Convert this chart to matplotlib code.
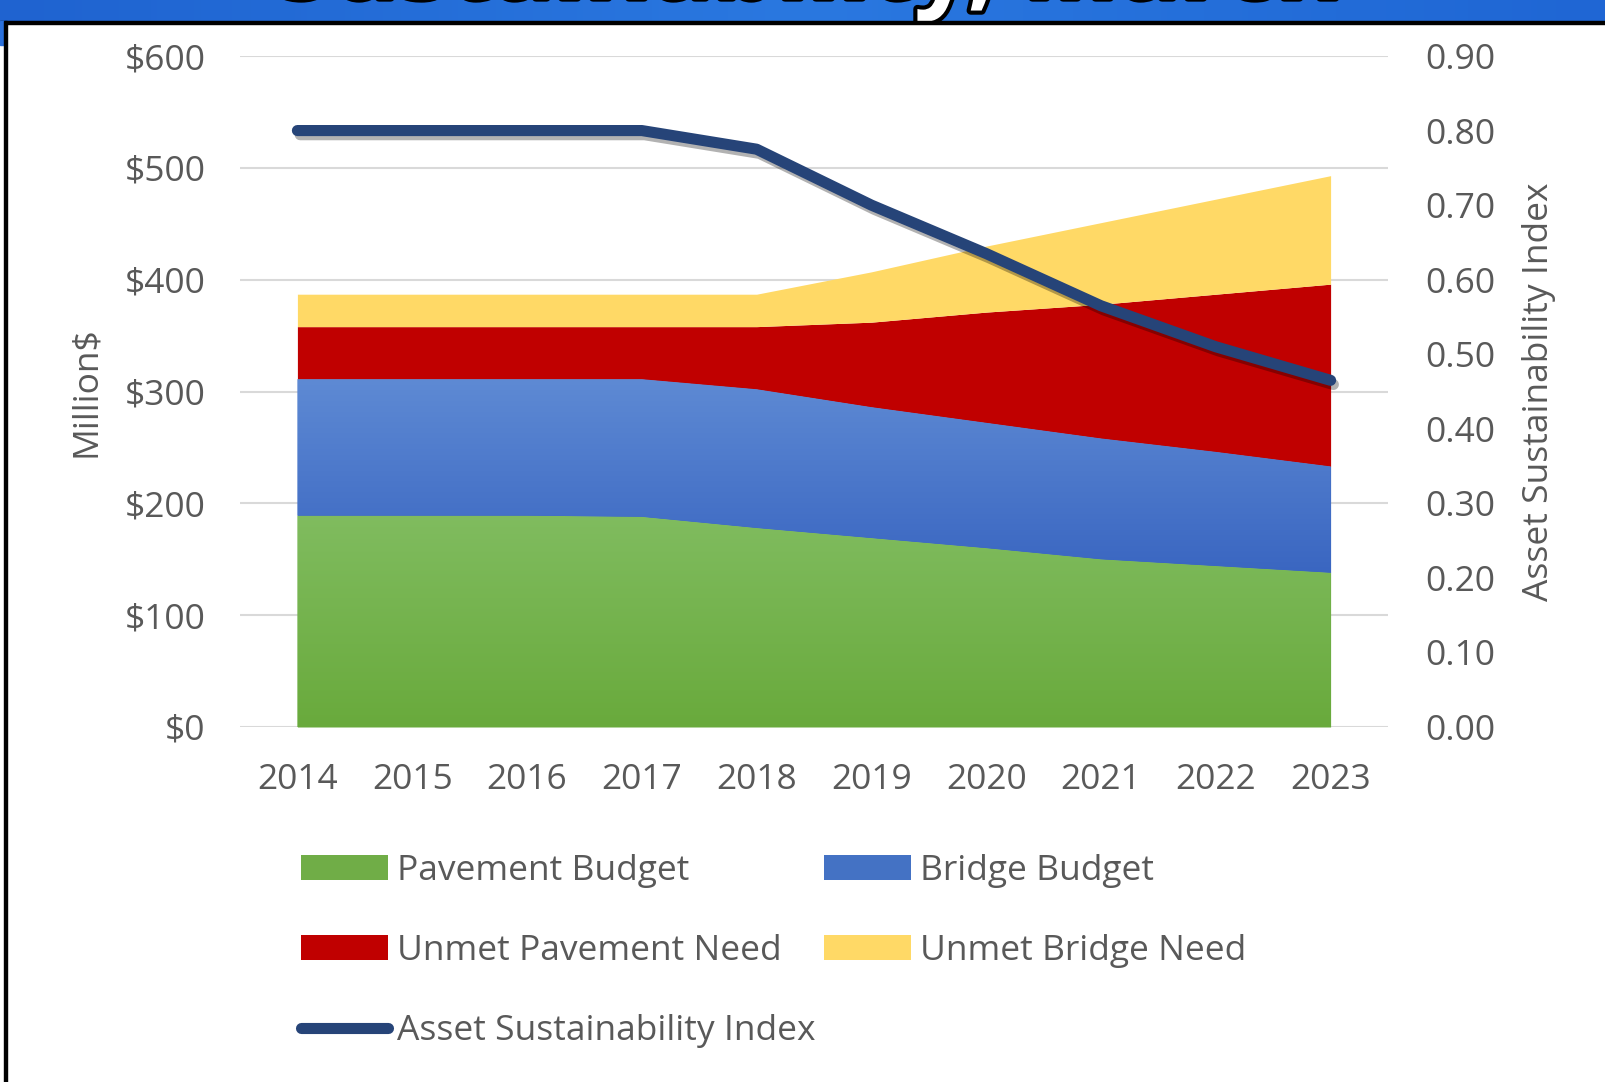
import numpy as np
import matplotlib.pyplot as plt
import matplotlib.patheffects as pe
from matplotlib.colors import LinearSegmentedColormap
from matplotlib.patches import Patch, Rectangle
from matplotlib.lines import Line2D
from matplotlib.ticker import FuncFormatter

plt.rcParams['font.family'] = ['Open Sans', 'DejaVu Sans']

years = [2014, 2015, 2016, 2017, 2018, 2019, 2020, 2021, 2022, 2023]
pavement_budget = [189, 189, 189, 188, 178, 169, 160, 150, 144, 138]
bridge_budget = [122, 122, 122, 123, 124, 117, 112, 108, 102, 95]
unmet_pavement = [47, 47, 47, 47, 56, 76, 99, 120, 141, 163]
unmet_bridge = [29, 29, 29, 29, 29, 45, 59, 73, 85, 97]
asi = [0.80, 0.80, 0.80, 0.80, 0.775, 0.70, 0.635, 0.565, 0.51, 0.465]

GRAY = '#595959'
FS = 25.5

fig = plt.figure(figsize=(16.06, 10.82), dpi=100)
fig.patch.set_facecolor('white')

# blue banner strip with the slide title running off the top
banner = fig.add_axes([0, 1 - 21 / 1082, 1, 21 / 1082])
banner.set_xlim(0, 1)
banner.set_ylim(0, 1)
banner.axis('off')
banner.imshow(np.linspace(0, 1, 256).reshape(1, -1), extent=[0, 1, 0, 1], aspect='auto',
              cmap=LinearSegmentedColormap.from_list('bn', ['#1f63d0', '#2a78e0', '#1f66d4']))
title = banner.text(0.504, 1.12, 'Sustainability, March', ha='center', va='baseline',
                    fontsize=73, fontweight='bold', color='white', clip_on=True)
title.set_path_effects([pe.withStroke(linewidth=6, foreground='black')])

fig.add_artist(Rectangle((0, 1 - 24 / 1082), 1, 3 / 1082, transform=fig.transFigure,
                         color='black', zorder=5))
fig.add_artist(Rectangle((0, 1 - 45 / 1082), 4 / 1606, 24 / 1082, transform=fig.transFigure,
                         color='#2a70dc', zorder=5))
fig.add_artist(Rectangle((4 / 1606, 0), 3 / 1606, 1 - 21 / 1082, transform=fig.transFigure,
                         color='black', zorder=5))

ax = fig.add_axes([240 / 1606, 1 - 727 / 1082, 1148 / 1606, 671 / 1082])
x = np.arange(len(years))

# stacked areas, the two budget layers shaded lighter toward the top
base = np.zeros(len(years))
layers = [
    (pavement_budget, ('#80bc5f', '#69aa3c')),
    (bridge_budget, ('#5e8ad4', '#3a66c1')),
    (unmet_pavement, ('#c00000', '#c00000')),
    (unmet_bridge, ('#ffd966', '#ffd966')),
]
for vals, (c_top, c_bot) in layers:
    top = base + np.array(vals)
    poly = ax.fill_between(x, base, top, color=c_bot, linewidth=0, zorder=2)
    if c_top != c_bot:
        cmap = LinearSegmentedColormap.from_list('g', [c_bot, c_top])
        img = ax.imshow(np.linspace(0, 1, 256).reshape(-1, 1),
                        extent=[x[0], x[-1], base.min(), top.max()],
                        origin='lower', aspect='auto', cmap=cmap, zorder=2.1)
        img.set_clip_path(poly.get_paths()[0], transform=ax.transData)
    base = top

ax.set_xlim(-0.5, len(years) - 0.5)
ax.set_ylim(0, 600)
ax.set_yticks(range(0, 601, 100))
ax.yaxis.set_major_formatter(FuncFormatter(lambda v, p: f'${v:.0f}'))
ax.set_xticks(x)
ax.set_xticklabels([str(y) for y in years])
ax.grid(axis='y', color='#d9d9d9', linewidth=1.5)
ax.set_axisbelow(True)
for s in ax.spines.values():
    s.set_visible(False)
ax.tick_params(axis='both', length=0, labelsize=FS, labelcolor=GRAY)
ax.tick_params(axis='y', pad=25)
ax.tick_params(axis='x', pad=26)
ax.set_ylabel('Million$', fontsize=FS, color=GRAY, labelpad=15)

ax2 = ax.twinx()
ax2.set_ylim(0, 0.9)
ax2.set_yticks(np.arange(0, 0.91, 0.1))
ax2.yaxis.set_major_formatter(FuncFormatter(lambda v, p: f'{v:.2f}'))
for s in ax2.spines.values():
    s.set_visible(False)
ax2.tick_params(axis='y', length=0, labelsize=FS, labelcolor=GRAY, pad=27)
ax2.set_ylabel('Asset Sustainability Index', fontsize=FS, color=GRAY, labelpad=19)
ax2.plot(x, asi, color='#264478', linewidth=8, solid_capstyle='round', zorder=5,
         path_effects=[pe.SimpleLineShadow(offset=(2, -3), shadow_color='black', alpha=0.3),
                       pe.Normal()])

handles = [
    Patch(facecolor='#70ad47', label='Pavement Budget'),
    Patch(facecolor='#c00000', label='Unmet Pavement Need'),
    Line2D([0], [0], color='#264478', linewidth=8, solid_capstyle='round',
           label='Asset Sustainability Index'),
    Patch(facecolor='#4472c4', label='Bridge Budget'),
    Patch(facecolor='#ffd966', label='Unmet Bridge Need'),
]
leg = fig.legend(handles=handles, ncol=2, loc='upper left',
                 bbox_to_anchor=(301 / 1606, 1 - 854 / 1082), frameon=False,
                 fontsize=FS, handlelength=2.45, handleheight=0.7, handletextpad=0.25,
                 columnspacing=0.25, labelspacing=1.3, borderpad=0, borderaxespad=0)
for t in leg.get_texts():
    t.set_color(GRAY)

fig.savefig('out.png', dpi=100)
